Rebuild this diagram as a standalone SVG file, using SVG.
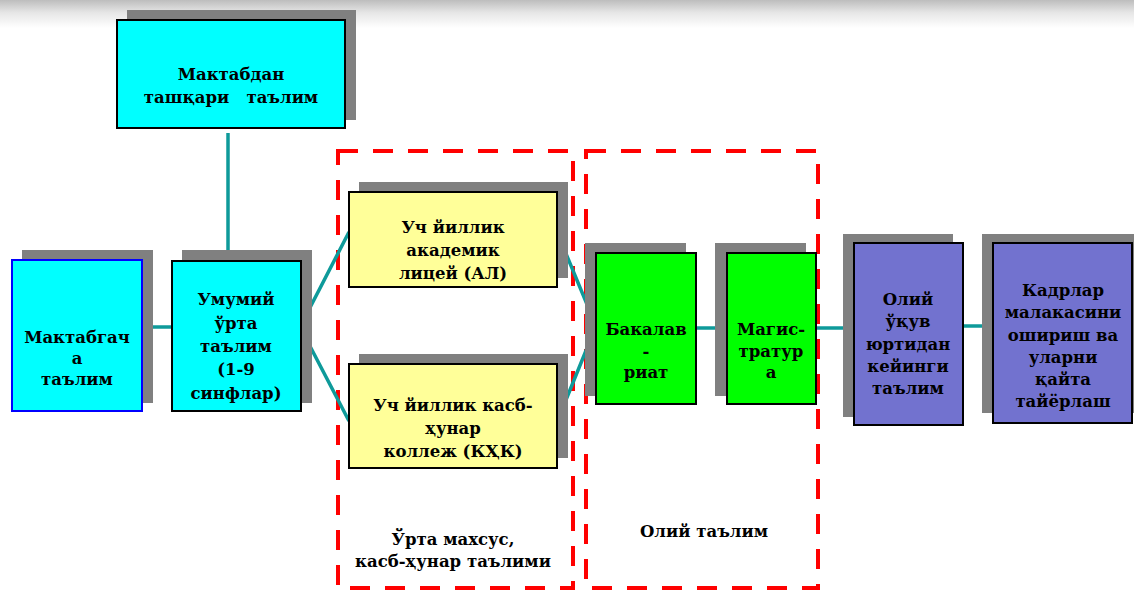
<svg xmlns="http://www.w3.org/2000/svg" width="1134" height="592" viewBox="0 0 1134 592">
<defs>
<linearGradient id="topShade" x1="0" y1="0" x2="0" y2="1">
<stop offset="0" stop-color="#bdbdbd"/>
<stop offset="0.45" stop-color="#e6e6e6"/>
<stop offset="1" stop-color="#ffffff"/>
</linearGradient>
</defs>
<style>
.sh{fill:#808080}
.bx{stroke:#000;stroke-width:2}
.cy{fill:#00ffff}
.ye{fill:#ffff99}
.gr{fill:#00ff00}
.pu{fill:#7272cf}
.t{font-family:'DejaVu Serif','Liberation Serif',serif;font-weight:bold;font-size:16.5px;fill:#000;text-anchor:middle}
.c{stroke:#0e9a9a;stroke-width:3.5;fill:none}
.d{fill:none;stroke:#ff0000;stroke-width:4;stroke-dasharray:20 15}
</style>
<rect width="1134" height="592" fill="#fff"/>
<rect x="0" y="0" width="1134" height="28" fill="url(#topShade)"/>

<g id="groups">
<rect class="d" x="338" y="151" width="235" height="437"/>
<rect class="d" x="586" y="151" width="232" height="437"/>
<text class="t" x="453" y="545">Ўрта махсус,</text>
<text class="t" x="453" y="567">касб-ҳунар таълими</text>
<text class="t" x="704" y="537">Олий таълим</text>
</g>

<g id="connectors">
<line class="c" x1="228" y1="133" x2="228" y2="250"/>
<line class="c" x1="142" y1="327" x2="172" y2="327"/>
<polyline class="c" points="349,232 300,327 349,421"/>
<polyline class="c" points="557,232 596,326 557,422"/>
<line class="c" x1="696" y1="328" x2="727" y2="328"/>
<line class="c" x1="816" y1="328" x2="854" y2="328"/>
<line class="c" x1="963" y1="326" x2="993" y2="326"/>
</g>

<g id="n-extracurricular">
<rect class="sh" x="127" y="10" width="229" height="110"/>
<rect class="bx cy" x="117" y="20" width="228" height="108"/>
<text class="t" x="231" y="80">Мактабдан</text>
<text class="t" x="231" y="103" xml:space="preserve">ташқари   таълим</text>
</g>

<g id="n-preschool">
<rect class="sh" x="22" y="250" width="131" height="153"/>
<rect class="cy" x="12" y="260" width="130" height="151" stroke="#0000ff" stroke-width="2"/>
<text class="t" x="77" y="343">Мактабгач</text>
<text class="t" x="77" y="364">а</text>
<text class="t" x="77" y="385">таълим</text>
</g>

<g id="n-general">
<rect class="sh" x="182" y="250" width="130" height="153"/>
<rect class="bx cy" x="172" y="261" width="129" height="150"/>
<text class="t" x="236" y="305">Умумий</text>
<text class="t" x="236" y="329">ўрта</text>
<text class="t" x="236" y="352">таълим</text>
<text class="t" x="236" y="375">(1-9</text>
<text class="t" x="236" y="399">синфлар)</text>
</g>

<g id="n-lyceum">
<rect class="sh" x="359" y="182" width="209" height="96"/>
<rect class="bx ye" x="349" y="192" width="208" height="95"/>
<text class="t" x="453" y="233">Уч йиллик</text>
<text class="t" x="453" y="256">академик</text>
<text class="t" x="453" y="279">лицей (АЛ)</text>
</g>

<g id="n-college">
<rect class="sh" x="359" y="354" width="209" height="104"/>
<rect class="bx ye" x="349" y="364" width="208" height="104"/>
<text class="t" x="453" y="411">Уч йиллик касб-</text>
<text class="t" x="453" y="434">ҳунар</text>
<text class="t" x="453" y="457">коллеж (КҲК)</text>
</g>

<g id="n-bachelor">
<rect class="sh" x="585" y="243" width="101" height="153"/>
<rect class="bx gr" x="596" y="253" width="100" height="151"/>
<text class="t" x="646" y="335">Бакалав</text>
<text class="t" x="646" y="357">-</text>
<text class="t" x="646" y="378">риат</text>
</g>

<g id="n-master">
<rect class="sh" x="715" y="243" width="91" height="153"/>
<rect class="bx gr" x="727" y="253" width="89" height="151"/>
<text class="t" x="771" y="335">Магис-</text>
<text class="t" x="771" y="357">тратур</text>
<text class="t" x="771" y="378">а</text>
</g>

<g id="n-postgrad">
<rect class="sh" x="843" y="234" width="110" height="183"/>
<rect class="bx pu" x="854" y="243" width="109" height="182"/>
<text class="t" x="908" y="305">Олий</text>
<text class="t" x="908" y="327">ўқув</text>
<text class="t" x="908" y="350">юртидан</text>
<text class="t" x="908" y="372">кейинги</text>
<text class="t" x="908" y="394">таълим</text>
</g>

<g id="n-retraining">
<rect class="sh" x="982" y="234" width="152" height="179"/>
<rect class="bx pu" x="993" y="243" width="139" height="180"/>
<text class="t" x="1063" y="296">Кадрлар</text>
<text class="t" x="1063" y="318">малакасини</text>
<text class="t" x="1063" y="341">ошириш ва</text>
<text class="t" x="1063" y="363">уларни</text>
<text class="t" x="1063" y="385">қайта</text>
<text class="t" x="1063" y="407">тайёрлаш</text>
</g>
</svg>
